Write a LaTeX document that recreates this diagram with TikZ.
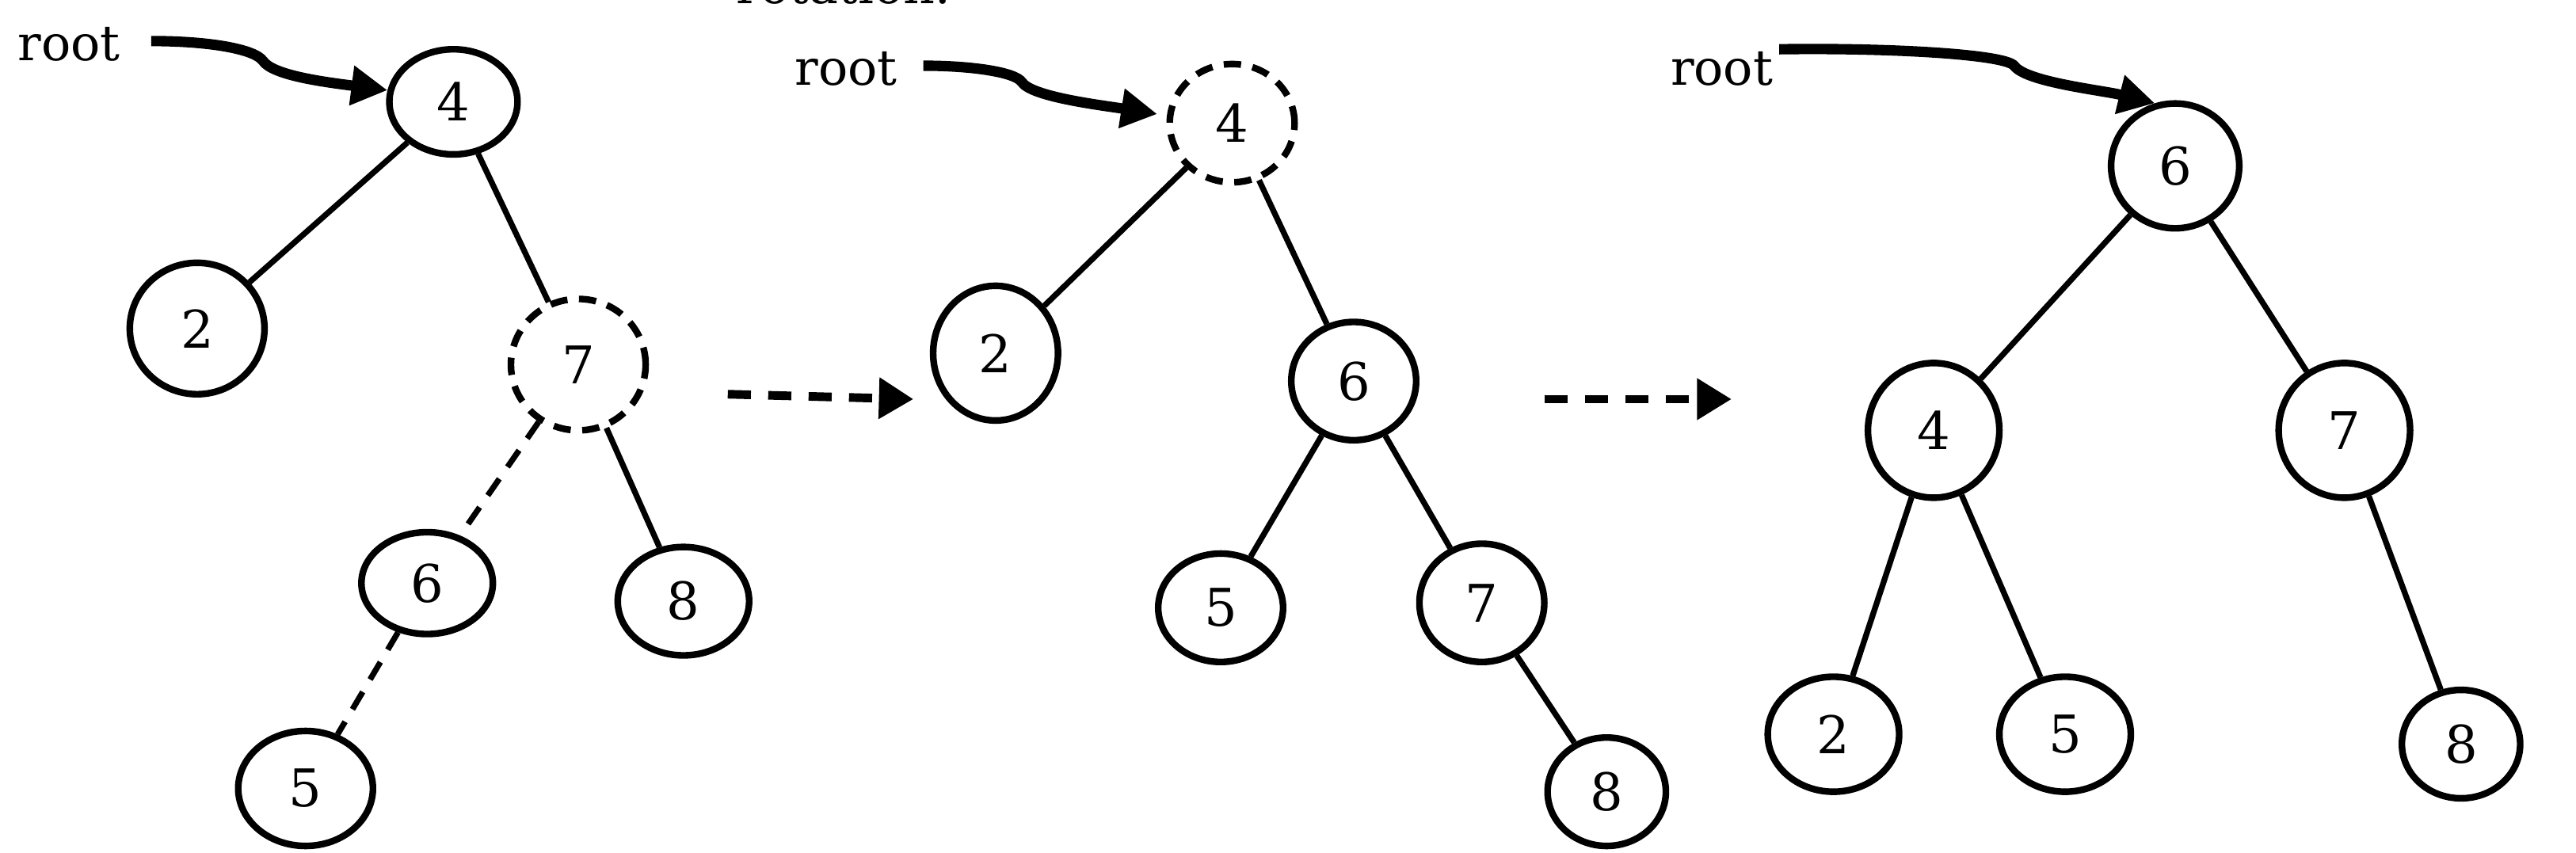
\documentclass[tikz,border=0pt]{standalone}
\usepackage{fontspec}
\setmainfont{DejaVu Serif}
\usepackage{tikz}
\usetikzlibrary{arrows.meta,shapes.geometric}
\tikzset{
  key/.style={ellipse, draw, line width=2.3pt, inner sep=0pt,
    minimum width=1.6cm, minimum height=1.4cm,
    font=\fontsize{18}{21}\selectfont},
  dims/.style 2 args={minimum width={(#1-4)*0.02cm},
    minimum height={(#2-4)*0.02cm}},
  moved key/.style={key, dash pattern=on 6pt off 4pt},
  tree edge/.style={line width=2pt},
  moved edge/.style={tree edge, dash pattern=on 7pt off 5pt},
  root ptr/.style={-{Triangle[length=4.4mm, width=4.6mm]}, line width=3.6pt},
  step arrow/.style={-{Triangle[length=4.2mm, width=4.8mm]}, line width=3pt,
    dash pattern=on 8pt off 6pt},
  root label/.style={font=\fontsize{17}{20}\selectfont, inner sep=0pt}
}
\begin{document}
\begin{tikzpicture}[x=0.02cm, y=-0.02cm]
  \useasboundingbox (0,0) rectangle (1568,519);
  \node[root label, anchor=base west] (cap) at (448,2) {rotation.};

  % before the rotation
  \node[root label] (r1) at (42,27) {root};
  \node[key, dims={82}{68}] (a4) at (276,62) {4};
  \node[key, dims={86}{84}] (a2) at (120,200) {2};
  \node[moved key, dims={86}{84}] (a7) at (352,222) {7};
  \node[key, dims={84}{66}] (a6) at (260,355) {6};
  \node[key, dims={84}{70}] (a8) at (416,366) {8};
  \node[key, dims={86}{74}] (a5) at (186,480) {5};
  \coordinate (r1s) at (92,25);
  \draw[root ptr] (r1s) .. controls (128,25) and (155,30) .. (160,37)
    .. controls (166,46) and (198,50) .. (a4.170);
  \draw[tree edge] (a4) -- (a2);
  \draw[tree edge] (a4) -- (a7);
  \draw[moved edge] (a7) -- (a6);
  \draw[tree edge] (a7) -- (a8);
  \draw[moved edge] (a6) -- (a5);

  \coordinate (s1a) at (443,240);
  \coordinate (s1b) at (556,243);
  \draw[step arrow] (s1a) -- (s1b);

  % after the first rotation
  \node[root label] (r2) at (515,42) {root};
  \node[moved key, dims={80}{76}] (b4) at (750,75) {4};
  \node[key, dims={80}{86}] (b2) at (606,215) {2};
  \node[key, dims={80}{76}] (b6) at (824,232) {6};
  \node[key, dims={80}{70}] (b5) at (743,370) {5};
  \node[key, dims={80}{76}] (b7) at (902,367) {7};
  \node[key, dims={76}{70}] (b8) at (978,482) {8};
  \coordinate (r2s) at (562,40);
  \draw[root ptr] (r2s) .. controls (592,40) and (618,44) .. (622,50)
    .. controls (628,59) and (670,64) .. ([xshift=-0.12cm]b4.172);
  \draw[tree edge] (b4) -- (b2);
  \draw[tree edge] (b4) -- (b6);
  \draw[tree edge] (b6) -- (b5);
  \draw[tree edge] (b6) -- (b7);
  \draw[tree edge] (b7) -- (b8);

  \coordinate (s2a) at (940,243);
  \coordinate (s2b) at (1054,243);
  \draw[step arrow] (s2a) -- (s2b);

  % after the second rotation
  \node[root label] (r3) at (1048,42) {root};
  \node[key, dims={82}{80}] (c6) at (1324,101) {6};
  \node[key, dims={84}{86}] (c4) at (1177,262) {4};
  \node[key, dims={84}{86}] (c7) at (1427,262) {7};
  \node[key, dims={84}{74}] (c2) at (1116,447) {2};
  \node[key, dims={84}{74}] (c5) at (1257,447) {5};
  \node[key, dims={76}{70}] (c8) at (1498,453) {8};
  \coordinate (r3s) at (1083,30);
  \draw[root ptr] (r3s) .. controls (1150,29) and (1220,33) .. (1226,40)
    .. controls (1233,50) and (1280,55) .. (c6.108);
  \draw[tree edge] (c6) -- (c4);
  \draw[tree edge] (c6) -- (c7);
  \draw[tree edge] (c4) -- (c2);
  \draw[tree edge] (c4) -- (c5);
  \draw[tree edge] (c7) -- (c8);
\end{tikzpicture}
\end{document}
